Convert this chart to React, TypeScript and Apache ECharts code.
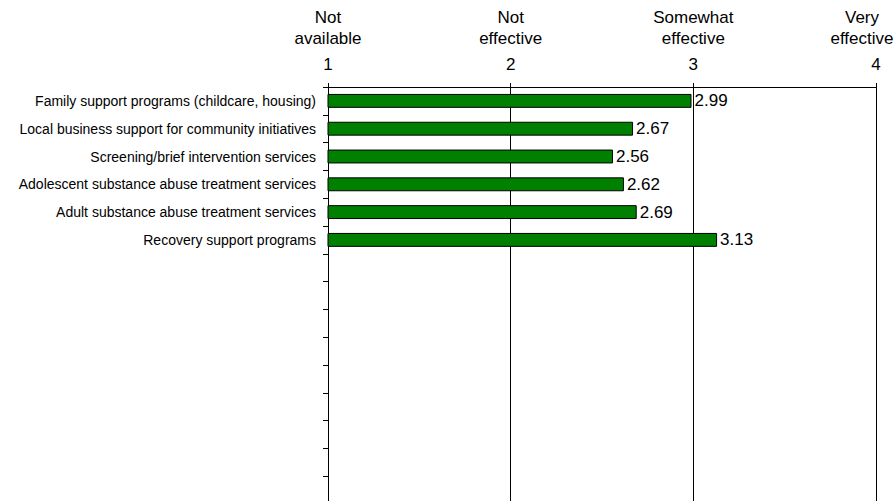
import React, { useEffect, useRef } from "react";
import * as echarts from "echarts";

const categories = [
  "Family support programs (childcare, housing)",
  "Local business support for community initiatives",
  "Screening/brief intervention services",
  "Adolescent substance abuse treatment services",
  "Adult substance abuse treatment services",
  "Recovery support programs",
];
const values = [2.99, 2.67, 2.56, 2.62, 2.69, 3.13];
const emptyRows = 9;
const tickValues = [1, 2, 3, 4];
const headerLabels = ["Not\navailable", "Not\neffective", "Somewhat\neffective", "Very\neffective"];

export default function App() {
  const ref = useRef<HTMLDivElement>(null);
  useEffect(() => {
    document.body.style.margin = "0";
    const chart = echarts.init(ref.current!, null, { renderer: "svg" });
    const font = "Arial, 'Liberation Sans', sans-serif";
    const yData = categories.concat(Array.from({ length: emptyRows }, () => ""));
    chart.setOption({
      animation: false,
      grid: { left: 328, right: 20, top: 87, bottom: -3, containLabel: false, outerBoundsMode: "none" },
      xAxis: [
        {
          type: "value",
          position: "top",
          min: tickValues[0],
          max: tickValues[tickValues.length - 1],
          interval: 1,
          axisLine: { show: true, lineStyle: { color: "#000", width: 1 } },
          axisTick: { show: true, length: 4, lineStyle: { color: "#000" } },
          splitLine: { show: true, lineStyle: { color: "#000", width: 1 } },
          axisLabel: { color: "#000", fontSize: 17, fontFamily: font, margin: 14 },
        },
        {
          type: "value",
          position: "top",
          min: tickValues[0],
          max: tickValues[tickValues.length - 1],
          interval: 1,
          axisLine: { show: false },
          axisTick: { show: false },
          splitLine: { show: false },
          axisLabel: {
            color: "#000",
            fontSize: 17,
            fontFamily: font,
            margin: 38,
            lineHeight: 21,
            formatter: (v: number) => {
              const i = tickValues.indexOf(v);
              if (i < 0) return "";
              const lines = headerLabels[i].split("\n");
              const style = i === tickValues.length - 1 ? "last" : "h";
              return lines.map((l) => `{${style}|${l}}`).join("\n");
            },
            rich: {
              h: { fontSize: 17, fontFamily: font, color: "#000", lineHeight: 21 },
              last: { fontSize: 17, fontFamily: font, color: "#000", lineHeight: 21, padding: [0, 28, 0, 0] },
            },
          },
        },
      ],
      yAxis: {
        type: "category",
        inverse: true,
        data: yData,
        axisLine: { show: true, lineStyle: { color: "#000", width: 1 } },
        axisTick: { show: true, length: 5, interval: 0, lineStyle: { color: "#000" } },
        axisLabel: { color: "#000", fontSize: 14, fontFamily: font, margin: 12, interval: 0 },
        splitLine: { show: false },
      },
      series: [
        {
          type: "bar",
          xAxisIndex: 0,
          data: values,
          barWidth: "50%",
          clip: true,
          itemStyle: { color: "#008000", borderColor: "#000", borderWidth: 1 },
          label: {
            show: true,
            position: "right",
            distance: 3,
            color: "#000",
            fontSize: 17,
            fontFamily: font,
            formatter: (p: any) => p.value.toFixed(2),
          },
        },
      ],
    });
    return () => chart.dispose();
  }, []);
  return <div ref={ref} style={{ width: 896, height: 501 }} />;
}
